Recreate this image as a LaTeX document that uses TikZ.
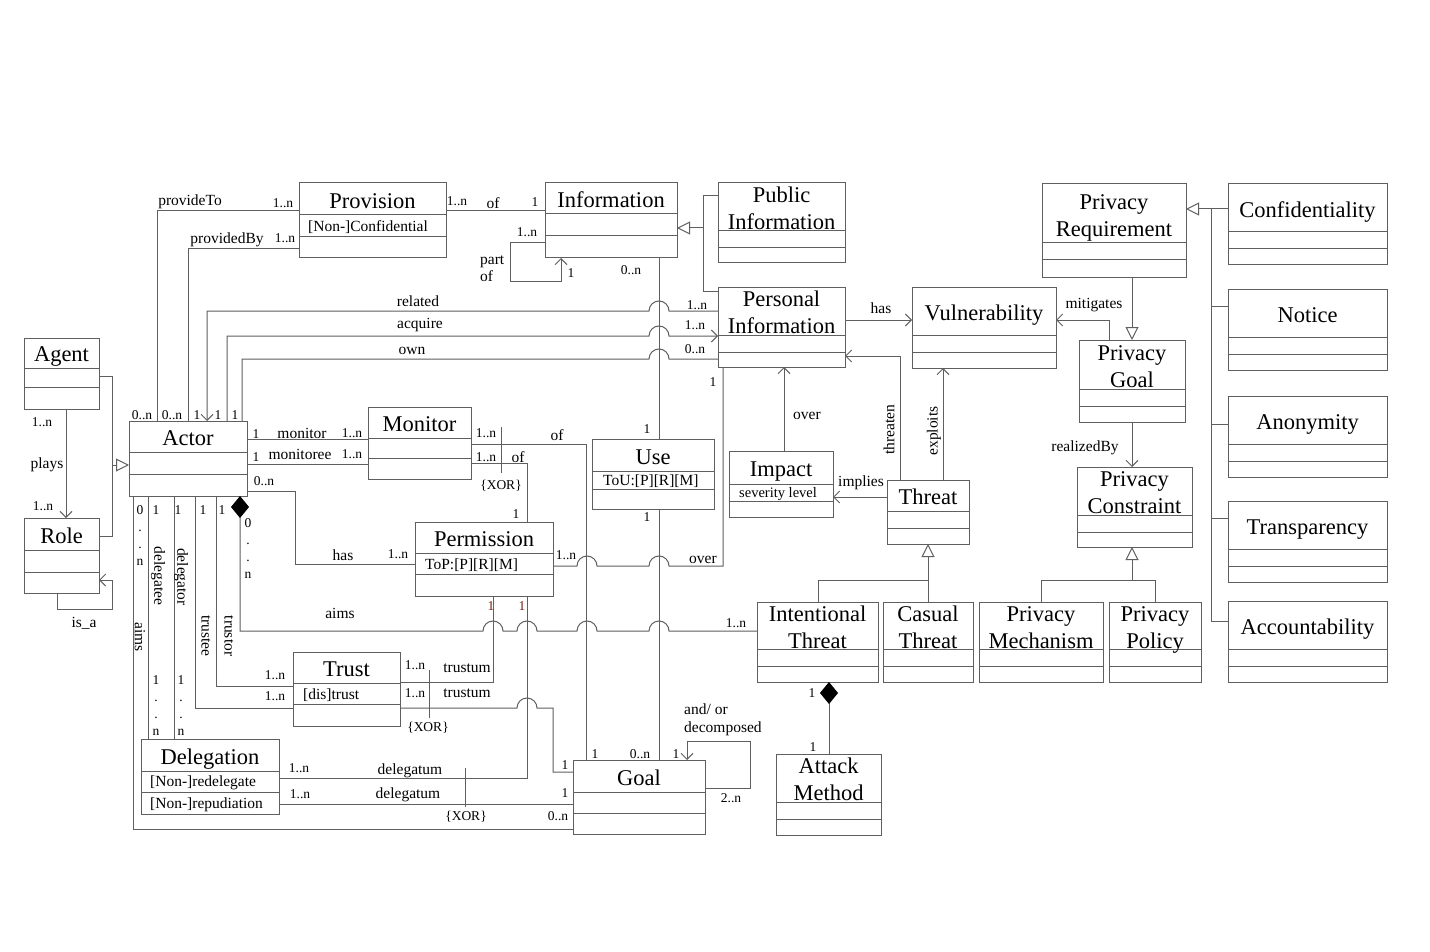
\documentclass[tikz,border=0pt]{standalone}
\usepackage{fontspec}
\setmainfont{Liberation Serif}
\usetikzlibrary{arrows.meta}
\definecolor{linec}{RGB}{95,95,95}
\definecolor{multred}{RGB}{115,30,20}

\newcommand\tstrut{\vphantom{Ay}}

\tikzset{
  ln/.style={draw=linec, line width=1pt},
  classbox/.style={draw=linec, line width=1pt, rectangle, inner sep=0pt, outer sep=0pt},
  classname/.style={font=\fontsize{22.5}{27}\selectfont, align=center, inner sep=0pt,
    yshift=-4pt, execute at begin node=\tstrut, execute at end node=\tstrut},
  attr/.style={font=\fontsize{15.5}{18}\selectfont, anchor=west, inner sep=0pt, yshift=-1.5pt},
  lab/.style={font=\fontsize{15.5}{17}\selectfont, inner sep=0pt},
  labs/.style={yshift=-1.5pt},
  mult/.style={font=\fontsize{13.5}{17}\selectfont, inner sep=0pt},
  arr/.style={-{Straight Barb[length=6pt,width=12pt]}},
  gen/.style={-{Triangle[open,fill=white,length=13pt,width=13pt]}},
  comp/.style={{Diamond[length=22pt,width=18pt,color=black,fill=black]}-},
}

% class box: name, x1, y1, x2, y2, first separator, second separator, title
\newcommand\umlclass[8]{%
  \node[classbox, minimum width={(#4-#2)*1pt}, minimum height={(#5-#3)*1pt}, anchor=north west] (#1) at (#2,#3) {};
  \draw[ln] (#2,#6) -- (#4,#6) (#2,#7) -- (#4,#7);
  \node[classname] (#1-name) at ({(#2+#4)/2},{(#3+#6)/2}) {#8};
}

\newcounter{lblno}
\newcommand\lbl[3][]{\stepcounter{lblno}\node[lab,#1] (lbl-\arabic{lblno}) at (#2) {#3};}

\begin{document}
\begin{tikzpicture}[x=1pt,y=-1pt]
\useasboundingbox[fill=white] (0,0) rectangle (1430,952);

% ---------------- classes ----------------
\umlclass{provision}{299}{183}{446}{258}{215}{237}{Provision}
\umlclass{information}{545}{183}{677}{258}{214}{236}{Information}
\umlclass{publicinfo}{718}{183}{845}{263}{231}{248}{Public\\Information}
\umlclass{personalinfo}{718}{287}{845}{367}{335}{352}{Personal\\Information}
\umlclass{vulnerability}{912}{287}{1056}{368}{335}{352}{Vulnerability}
\umlclass{privreq}{1042}{184}{1186}{277}{243}{260}{Privacy\\Requirement}
\umlclass{confidentiality}{1228}{184}{1387}{265}{232}{249}{Confidentiality}
\umlclass{notice}{1228}{289}{1387}{370}{337}{354}{Notice}
\umlclass{anonymity}{1228}{396}{1387}{477}{444}{461}{Anonymity}
\umlclass{transparency}{1228}{501}{1387}{582}{549}{566}{Transparency}
\umlclass{accountability}{1228}{601}{1387}{682}{649}{666}{Accountability}
\umlclass{privgoal}{1079}{340}{1185}{422}{389}{406}{Privacy\\Goal}
\umlclass{privconstraint}{1077}{467}{1192}{547}{515}{532}{Privacy\\Constraint}
\umlclass{threat}{887}{480}{969}{544}{511}{528}{Threat}
\umlclass{intthreat}{757}{602}{878}{682}{649}{666}{Intentional\\Threat}
\umlclass{casthreat}{883}{602}{973}{682}{649}{666}{Casual\\Threat}
\umlclass{privmech}{979}{602}{1103}{682}{649}{666}{Privacy\\Mechanism}
\umlclass{privpolicy}{1109}{602}{1201}{682}{649}{666}{Privacy\\Policy}
\umlclass{impact}{729}{451}{833}{517}{484}{501}{Impact}
\umlclass{use}{592}{439}{714}{509}{471}{489}{Use}
\umlclass{agent}{24}{338}{99}{409}{368}{387}{Agent}
\umlclass{role}{24}{518}{99}{593}{550}{572}{Role}
\umlclass{actor}{129}{421}{247}{496}{452}{474}{Actor}
\umlclass{monitor}{368}{407}{471}{479}{438}{458}{Monitor}
\umlclass{permission}{415}{522}{553}{596}{553}{574}{Permission}
\umlclass{trust}{293}{652}{400}{726}{683}{704}{Trust}
\umlclass{delegation}{141}{739}{279}{814}{771}{792}{Delegation}
\umlclass{goal}{573}{760}{705}{834}{792}{813}{Goal}
\umlclass{attack}{776}{754}{881}{835}{802}{819}{Attack\\Method}

% attributes
\node[attr] (provision-attr) at (308,226) {[Non-]Confidential};
\node[attr] (permission-attr) at (425,564) {ToP:[P][R][M]};
\node[attr] (use-attr) at (603,480) {ToU:[P][R][M]};
\node[attr, font=\fontsize{14.5}{16}\selectfont] (impact-attr) at (739,493) {severity level};
\node[attr] (trust-attr) at (303,694) {[dis]trust};
\node[attr] (delegation-attr1) at (150,781) {[Non-]redelegate};
\node[attr] (delegation-attr2) at (150,803) {[Non-]repudiation};

% ---------------- connectors ----------------
% Agent plays Role, both specialise Actor
\draw[ln, arr] (66,0 |- agent.south) -- (66,0 |- role.north);
\draw[ln] (agent.east |- 0,376) -| (112,536) -- (role.east |- 0,536);
\draw[ln, gen] (112,465) -- (actor.west |- 0,465);
\draw[ln, arr] (57,0 |- role.south) |- (112,609) |- (role.east |- 0,580);

% Provision
\draw[ln] (157,0 |- actor.north) |- (provision.west |- 0,211);
\draw[ln] (188,0 |- actor.north) |- (provision.west |- 0,249);
\draw[ln] (provision.east |- 0,211) -- (information.west |- 0,211);

% Information: part of, specialisations
\draw[ln, arr] (information.west |- 0,243) -| (510,281) -| (561,0 |- information.south);
\draw[ln] (publicinfo.west |- 0,196) -| (703,291) -- (personalinfo.west |- 0,291);
\draw[ln, gen] (703,228) -- (information.east |- 0,228);

% Actor related / acquire / own Personal Information
\draw[ln, arr] (personalinfo.west |- 0,311) -- (669,311) arc (0:-180:10) -| (207,0 |- actor.north);
\draw[ln, arr] (227,0 |- actor.north) |- (649,336) arc (180:360:10) -- (personalinfo.west |- 0,336);
\draw[ln] (242,0 |- actor.north) |- (649,359) arc (180:360:10) -- (personalinfo.west |- 0,359);

% Information - Use - Goal
\draw[ln] (659,0 |- information.south) -- (659,0 |- use.north);
\draw[ln] (659,0 |- use.south) -- (659,0 |- goal.north);

% Personal Information, Vulnerability, Threat, Impact
\draw[ln, arr] (personalinfo.east |- 0,320) -- (vulnerability.west |- 0,320);
\draw[ln, arr] (900,0 |- threat.north) |- (personalinfo.east |- 0,356);
\draw[ln, arr] (943,0 |- threat.north) -- (943,0 |- vulnerability.south);
\draw[ln, arr] (threat.west |- 0,497) -- (impact.east |- 0,497);
\draw[ln, arr] (784,0 |- impact.north) -- (784,0 |- personalinfo.south);

% Threat specialisations
\draw[ln, gen] (928,0 |- casthreat.north) -- (928,0 |- threat.south);
\draw[ln] (928,580) -| (818,0 |- intthreat.north);

% Privacy constraint specialisations
\draw[ln, gen] (1132,580) -- (1132,0 |- privconstraint.south);
\draw[ln] (1041,0 |- privmech.north) |- (1155,580) -- (1155,0 |- privpolicy.north);

% Privacy requirement / goal / constraint
\draw[ln, gen] (1132,0 |- privreq.south) -- (1132,0 |- privgoal.north);
\draw[ln, arr] (1109,0 |- privgoal.north) |- (vulnerability.east |- 0,320);
\draw[ln, arr] (1132,0 |- privgoal.south) -- (1132,0 |- privconstraint.north);

% privacy principles
\draw[ln, gen] (1211,209) -- (privreq.east |- 0,209);
\draw[ln] (confidentiality.west |- 0,209) -| (1211,621) -- (accountability.west |- 0,621);
\draw[ln] (1211,306) -- (notice.west |- 0,306);
\draw[ln] (1211,424) -- (anonymity.west |- 0,424);
\draw[ln] (1211,518) -- (transparency.west |- 0,518);

% Monitor
\draw[ln] (actor.east |- 0,439) -- (monitor.west |- 0,439);
\draw[ln] (actor.east |- 0,464) -- (monitor.west |- 0,464);
\draw[ln] (monitor.east |- 0,444) -| (586,0 |- goal.north);
\draw[ln] (monitor.east |- 0,463) -| (527,0 |- permission.north);
\coordinate (xor1a) at (501,427);
\coordinate (xor1b) at (501,473);
\draw[ln] (xor1a) -- (xor1b);

% Permission
\draw[ln] (actor.east |- 0,491) -| (295,564) -- (permission.west |- 0,564);
\draw[ln] (permission.east |- 0,566) -- (577,566) arc (180:360:10) -- (649,566) arc (180:360:10) -| (723,0 |- personalinfo.south);

% Actor aims Intentional Threat
\draw[ln, comp] (240,0 |- actor.south) -- (240,631) -- (483,631) arc (180:360:10)
  -- (517,631) arc (180:360:10) -- (577,631) arc (180:360:10)
  -- (649,631) arc (180:360:10) -- (intthreat.west |- 0,631);

% Trust and Delegation objects
\draw[ln] (493,0 |- permission.south) |- (trust.east |- 0,682);
\draw[ln] (527,0 |- permission.south) |- (delegation.east |- 0,778);
\draw[ln] (trust.east |- 0,708) -- (517,708) arc (180:360:10) -| (553,772) -- (goal.west |- 0,772);
\coordinate (xor2a) at (429,670);
\coordinate (xor2b) at (429,718);
\draw[ln] (xor2a) -- (xor2b);
\draw[ln] (delegation.east |- 0,804) -- (goal.west |- 0,804);
\coordinate (xor3a) at (465,768);
\coordinate (xor3b) at (465,807);
\draw[ln] (xor3a) -- (xor3b);

% Actor roles below
\draw[ln] (133,0 |- actor.south) |- (goal.west |- 0,829);
\draw[ln] (148,0 |- actor.south) -- (148,0 |- delegation.north);
\draw[ln] (174,0 |- actor.south) -- (174,0 |- delegation.north);
\draw[ln] (195,0 |- actor.south) |- (trust.west |- 0,708);
\draw[ln] (216,0 |- actor.south) |- (trust.west |- 0,686);

% Goal decomposition
\draw[ln, arr] (goal.east |- 0,788) -| (750,741) -| (687,0 |- goal.north);

% Intentional Threat composed of Attack Method
\draw[ln, comp] (829,0 |- intthreat.south) -- (829,0 |- attack.north);

% ---------------- labels ----------------
\lbl[labs]{190,200}{provideTo}
\lbl[mult]{283,203}{1..n}
\lbl[labs]{227,238}{providedBy}
\lbl[mult]{285,238}{1..n}
\lbl[mult]{457,201}{1..n}
\lbl[labs]{493,202}{of}
\lbl[mult]{535,202}{1}
\lbl[mult]{527,232}{1..n}
\lbl[anchor=west, align=left, labs]{480,267}{part\\of}
\lbl[mult]{571,273}{1}
\lbl[mult]{631,270}{0..n}
\lbl[labs]{418,300}{related}
\lbl[labs]{420,324}{acquire}
\lbl[labs]{412,349}{own}
\lbl[mult]{697,305}{1..n}
\lbl[mult]{695,325}{1..n}
\lbl[mult]{695,349}{0..n}
\lbl[mult]{713,382}{1}
\lbl[labs]{881,307}{has}
\lbl[labs]{1094,304}{mitigates}
\lbl[labs]{807,414}{over}
\lbl[rotate=90]{889,430}{threaten}
\lbl[rotate=90]{934,431}{exploits}
\lbl[labs]{1085,446}{realizedBy}
\lbl[labs]{861,481}{implies}

\lbl[mult]{142,415}{0..n}
\lbl[mult]{172,415}{0..n}
\lbl[mult]{197,415}{1}
\lbl[mult]{218,415}{1}
\lbl[mult]{235,415}{1}
\lbl[mult]{42,422}{1..n}
\lbl[labs]{47,463}{plays}
\lbl[mult]{43,506}{1..n}
\lbl[labs]{84,622}{is\_a}

\lbl[mult]{256,434}{1}
\lbl[labs]{302,432}{monitor}
\lbl[mult]{352,433}{1..n}
\lbl[mult]{256,457}{1}
\lbl[labs]{300,453}{monitoree}
\lbl[mult]{352,454}{1..n}
\lbl[mult]{264,481}{0..n}
\lbl[labs]{343,554}{has}
\lbl[mult]{398,554}{1..n}
\lbl[mult]{486,433}{1..n}
\lbl[labs]{557,434}{of}
\lbl[mult]{486,457}{1..n}
\lbl[labs]{518,456}{of}
\lbl[mult]{501,486}{\{XOR\}}
\lbl[mult]{516,514}{1}
\lbl[mult]{647,429}{1}
\lbl[mult]{647,517}{1}
\lbl[mult]{566,555}{1..n}
\lbl[labs]{703,558}{over}

\lbl[mult, align=center]{140,536}{0\\.\\.\\n}
\lbl[mult, align=center]{248,549}{0\\.\\.\\n}
\lbl[mult]{156,510}{1}
\lbl[mult]{178,510}{1}
\lbl[mult]{203,510}{1}
\lbl[mult]{222,510}{1}
\lbl[rotate=-90]{158,576}{delegatee}
\lbl[rotate=-90]{181,577}{delegator}
\lbl[rotate=-90]{206,636}{trustee}
\lbl[rotate=-90]{229,636}{trustor}
\lbl[rotate=-90]{140,637}{aims}
\lbl[labs]{340,612}{aims}
\lbl[mult, text=multred]{491,606}{1}
\lbl[mult, text=multred]{522,606}{1}
\lbl[mult]{736,623}{1..n}

\lbl[mult]{275,675}{1..n}
\lbl[mult]{275,696}{1..n}
\lbl[mult]{415,665}{1..n}
\lbl[labs]{467,667}{trustum}
\lbl[mult]{415,693}{1..n}
\lbl[labs]{467,692}{trustum}
\lbl[mult]{428,728}{\{XOR\}}
\lbl[mult, align=center]{156,706}{1\\.\\.\\n}
\lbl[mult, align=center]{181,706}{1\\.\\.\\n}
\lbl[mult]{299,768}{1..n}
\lbl[labs]{410,769}{delegatum}
\lbl[mult]{300,794}{1..n}
\lbl[labs]{408,793}{delegatum}
\lbl[mult]{466,817}{\{XOR\}}

\lbl[mult]{565,765}{1}
\lbl[mult]{565,793}{1}
\lbl[mult]{558,816}{0..n}
\lbl[mult]{595,754}{1}
\lbl[mult]{640,754}{0..n}
\lbl[mult]{676,754}{1}
\lbl[mult]{731,798}{2..n}
\lbl[anchor=west, labs]{684,708}{and/ or}
\lbl[anchor=west, labs]{684,727}{decomposed}
\lbl[mult]{812,693}{1}
\lbl[mult]{813,747}{1}
\end{tikzpicture}
\end{document}
